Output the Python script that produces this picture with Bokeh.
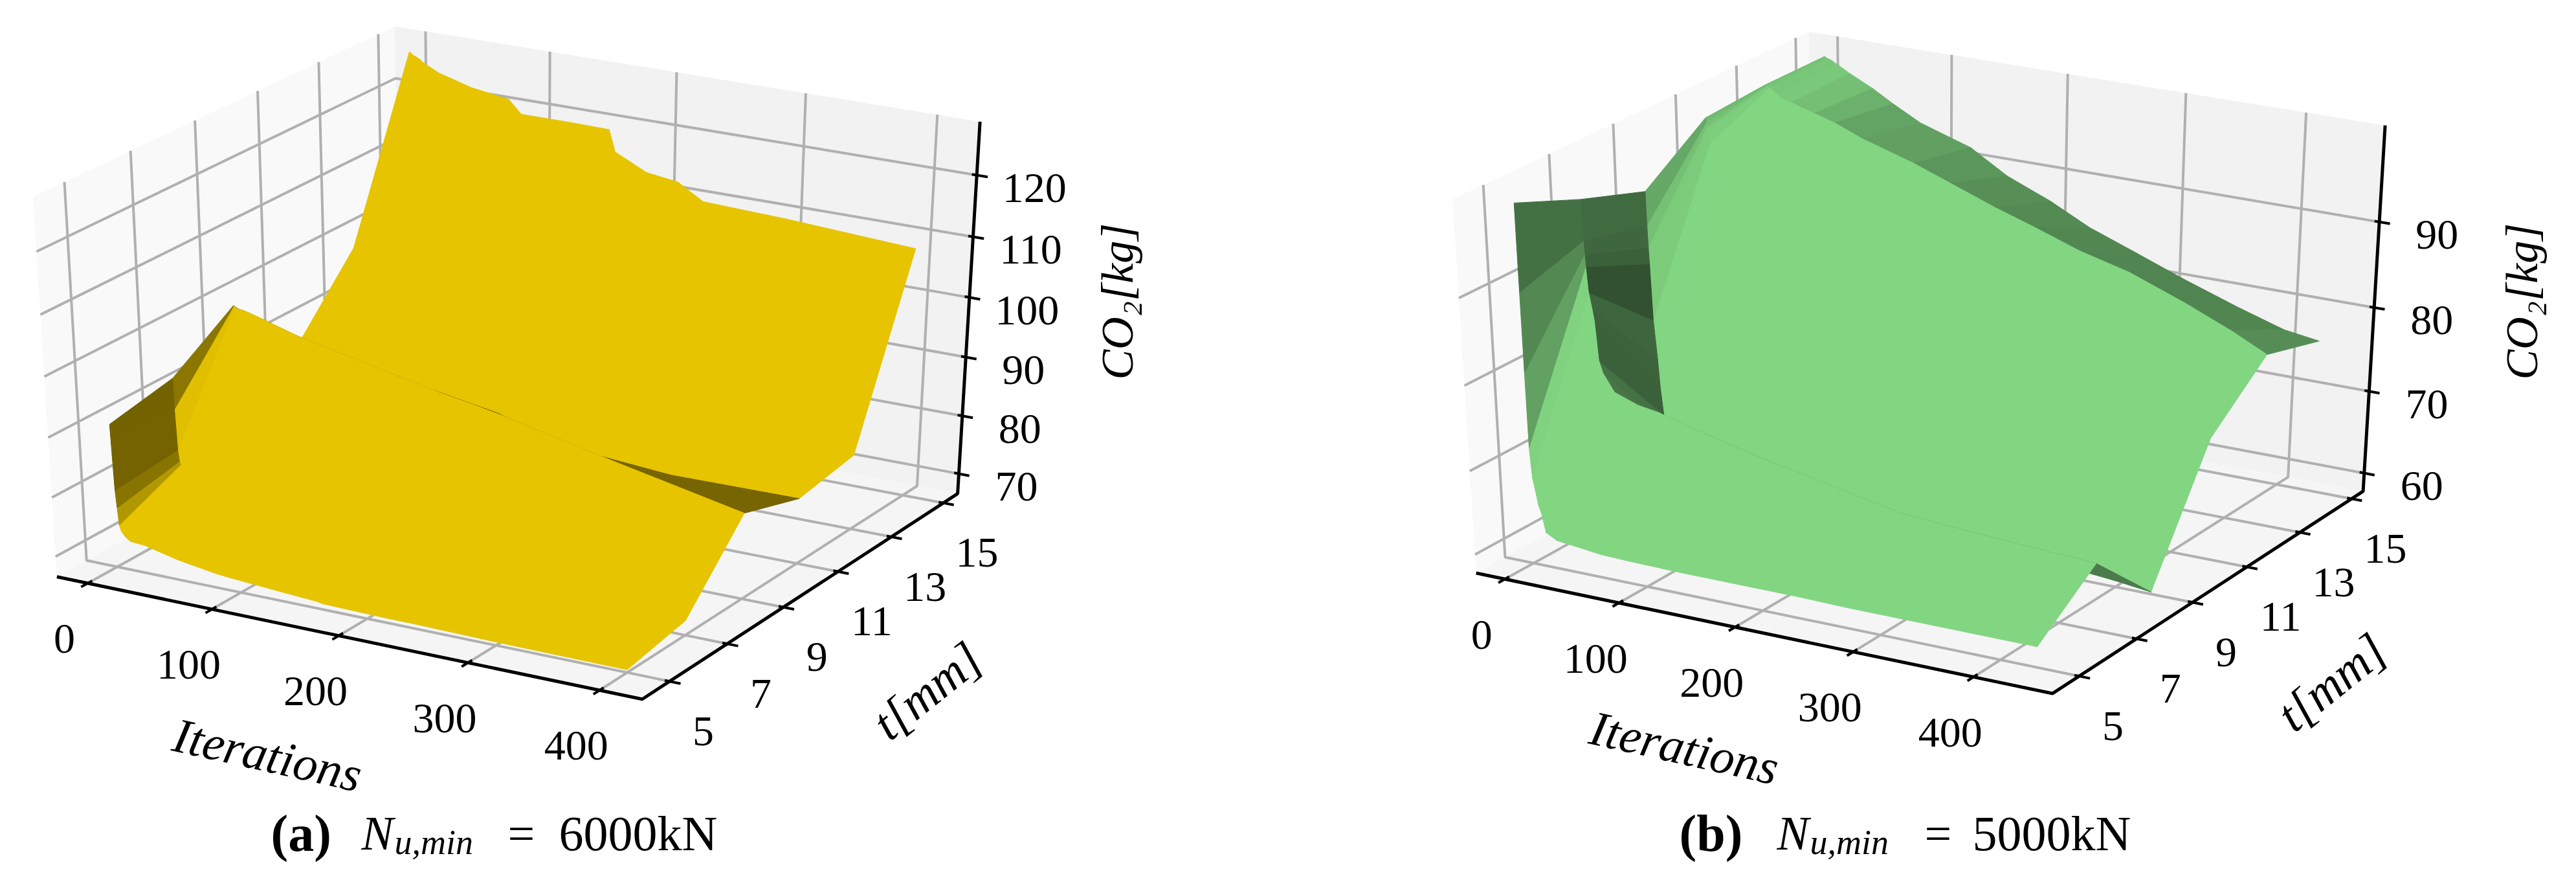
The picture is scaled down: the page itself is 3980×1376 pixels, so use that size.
import numpy as np
from bokeh.plotting import figure
from bokeh.layouts import row
from bokeh.models import Range1d, ColumnDataSource
from bokeh.core.properties import value
from bokeh.embed import file_html
from bokeh.resources import INLINE

# ---------- data ----------
thickness = [5, 7, 9, 11, 13, 15]

iters_a = [0, 0.3, 1.5, 2.5, 3.5, 5, 8, 12, 24, 50, 80, 90, 130, 160, 165, 190, 215, 235, 300, 400]
co2_a_t5 = [90.6, 88.5, 79.6, 76.7, 73.8, 72.8, 72, 71.4, 71.2, 69.9, 68.9, 68.7, 68.1, 67.7, 67.5, 67.4, 67.3, 67.3, 67.1, 67]
co2_a_t7 = [92.7, 87.5, 80.7, 78.8, 78.3, 78.1, 78, 77.8, 76.1, 74.7, 73.2, 72.8, 71, 70.8, 70.6, 70.4, 70.2, 70.1, 69.6, 69]
co2_a_t9 = [99.4, 99.35, 99.2, 99.1, 99, 98.95, 98.9, 98.7, 98, 96.4, 95, 94.6, 92.8, 91.5, 91.3, 90.4, 89.4, 88.4, 85.4, 81]
co2_a_t11 = [87, 86.8, 86.2, 85.9, 85.6, 85.5, 85.2, 85, 84.8, 84.3, 83.8, 83.6, 83, 82.4, 82.2, 80.5, 79.3, 78.5, 77.4, 77.6]
co2_a_t13 = [98.7, 98.6, 98.3, 98.2, 98.1, 98, 97.8, 97.5, 97, 96, 94.5, 94, 92, 90.3, 90, 89, 87.7, 86.8, 83.5, 79.2]
co2_a_t15 = [126.5, 126.45, 126.3, 126.1, 126, 125.9, 125.6, 125, 123.8, 122.3, 121.4, 119.3, 119.3, 119.2, 115.7, 113.2, 112.5, 110, 109.5, 108.3]

iters_b = [0, 0.5, 1, 1.5, 3, 5.6, 7, 9.4, 12.6, 22, 42, 60, 84, 128, 160, 198, 232, 270, 313, 360, 400, 430]
co2_b_t5 = [99.6, 89.6, 80.4, 71.7, 68.1, 66.2, 65, 64, 61.8, 61.1, 60.8, 60.5, 60.4, 60.3, 60.3, 60.3, 60.3, 60.2, 60.2, 60.2, 60.2, 60.2]
co2_b_t7 = [96.5, 91.8, 90.3, 88.9, 86, 84, 82.8, 78.2, 76.8, 74.8, 73.8, 73.4, 72.5, 71, 70, 69, 68, 67, 66.6, 66.2, 65.9, 65.7]
co2_b_t9 = [93.9, 90, 87.5, 85.6, 79, 74.5, 71.2, 67.8, 66.4, 65.5, 64.5, 64, 63.3, 62.3, 61.6, 61, 60.5, 60, 59.5, 59, 58.5, 58]
co2_b_t11 = [98.9, 98.4, 97.9, 97.5, 96, 93.6, 92, 90.5, 90.2, 89.8, 89, 88.5, 87.5, 86, 85, 83.5, 82.3, 81, 79, 76.5, 74, 72.2]
co2_b_t13 = [99.4, 99.35, 99.3, 99.25, 99.1, 98.9, 98.8, 98.5, 98.1, 97.8, 97, 96.3, 95, 93.2, 91.6, 89.7, 88.2, 86.4, 84.9, 82.5, 80.2, 78.2]
co2_b_t15 = [99.4, 99.35, 99.3, 99.25, 99.2, 99.1, 99, 98.8, 98.6, 97.9, 96.6, 95.2, 93.5, 91.6, 89, 86.9, 84.6, 82.7, 80.5, 78.3, 76.6, 76]

x_ticks = [0, 100, 200, 300, 400]
y_ticks = [5, 7, 9, 11, 13, 15]
z_ticks_a = [70, 80, 90, 100, 110, 120]
z_ticks_b = [60, 70, 80, 90]

X_LABEL = "Iterations"
Y_LABEL = "t[mm]"
Z_LABEL = "CO₂[kg]"

SERIF = "Liberation Serif"
GRID = "#b0b0b0"


class View:
    """Default 3D camera (azim -60, elev 30, dist 10) on a unit cube."""
    u = np.array([0.8660254, 0.5, 0.0])
    v = np.array([-0.25, 0.4330127, 0.8660254])
    w = np.array([0.4330127, -0.75, 0.5])

    def __init__(self, tx, ty, sx, sy, xlim, ylim, zlim):
        self.tx, self.ty, self.sx, self.sy = tx, ty, sx, sy
        self.xlim, self.ylim, self.zlim = xlim, ylim, zlim

    def world(self, x, y, z):
        return ((x - self.xlim[0]) / (self.xlim[1] - self.xlim[0]) - 0.5,
                (y - self.ylim[0]) / (self.ylim[1] - self.ylim[0]) - 0.5,
                (z - self.zlim[0]) / (self.zlim[1] - self.zlim[0]) - 0.5)

    def proj_w(self, xw, yw, zw):
        p = np.array([xw, yw, zw])
        d = 10.0 - p.dot(self.w)
        return self.tx + self.sx * p.dot(self.u) / d, self.ty - self.sy * p.dot(self.v) / d, d

    def proj(self, x, y, z):
        return self.proj_w(*self.world(x, y, z))


def polyline(p, v, pts, **kw):
    xy = [v.proj_w(*q) for q in pts]
    p.line([a[0] for a in xy], [a[1] for a in xy], **kw)


def put_text(p, x, y, s, size, angle=0.0, style="normal", align="center", base="middle"):
    p.text([x], [y], text=[s], angle=angle, text_font=value(SERIF), text_font_size=f"{size}px",
           text_font_style=style, text_align=align, text_baseline=base, text_color="black")


def panel(xr, xs, ts, zrows, base, lo, gamma, cap, view, zticks, label_pos, caption):
    p = figure(width=1982, height=1360, x_range=Range1d(*xr), y_range=Range1d(1360, 0),
               output_backend="svg", toolbar_location=None, tools="", min_border=0,
               x_axis_location=None, y_axis_location=None, outline_line_color=None,
               background_fill_color="white", border_fill_color="white")
    p.grid.visible = False

    # panes
    a = 0.5
    for pts, col in (
        ([(-a, -a, -a), (-a, a, -a), (-a, a, a), (-a, -a, a)], "#f9f9f9"),
        ([(-a, a, -a), (a, a, -a), (a, a, a), (-a, a, a)], "#f2f2f2"),
        ([(-a, -a, -a), (a, -a, -a), (a, a, -a), (-a, a, -a)], "#f5f5f5"),
    ):
        xy = [view.proj_w(*q) for q in pts]
        p.patch([q[0] for q in xy], [q[1] for q in xy], fill_color=col, line_color=None)

    gl = dict(line_color=GRID, line_width=4)
    for x in x_ticks:
        xw = view.world(x, 0, 0)[0]
        polyline(p, view, [(xw, -a, -a), (xw, a, -a), (xw, a, a)], **gl)
    for y in y_ticks:
        yw = view.world(0, y, 0)[1]
        polyline(p, view, [(a, yw, -a), (-a, yw, -a), (-a, yw, a)], **gl)
    for z in zticks:
        zw = view.world(0, 0, z)[2]
        polyline(p, view, [(a, a, zw), (-a, a, zw), (-a, -a, zw)], **gl)

    # axis lines and ticks
    al = dict(line_color="black", line_width=5)
    polyline(p, view, [(-a, -a, -a), (a, -a, -a), (a, a, -a), (a, a, a)], **al)
    tl = dict(line_color="black", line_width=4)
    for x in x_ticks:
        xw = view.world(x, 0, 0)[0]
        polyline(p, view, [(xw, -a - 0.018, -a), (xw, -a + 0.012, -a)], **tl)
        px, py, _ = view.proj_w(xw, -a, -a)
        put_text(p, px - 36, py + 86, str(x), 66)
    for y in y_ticks:
        yw = view.world(0, y, 0)[1]
        polyline(p, view, [(a + 0.018, yw, -a), (a - 0.008, yw, -a)], **tl)
        px, py, _ = view.proj_w(a, yw, -a)
        put_text(p, px + 52, py + 77, str(y), 66)
    for z in zticks:
        zw = view.world(0, 0, z)[2]
        polyline(p, view, [(a + 0.018, a, zw), (a - 0.008, a, zw)], **tl)
        px, py, _ = view.proj_w(a, a, zw)
        put_text(p, px + 89, py + 20, str(z), 66)

    # surface, painter-sorted, shaded from the quad normals
    Z = np.array(zrows, dtype=float)
    quads = []
    for i in range(len(ts) - 1):
        for j in range(len(xs) - 1):
            c = [(xs[j], ts[i], Z[i, j]), (xs[j + 1], ts[i], Z[i, j + 1]),
                 (xs[j + 1], ts[i + 1], Z[i + 1, j + 1]), (xs[j], ts[i + 1], Z[i + 1, j])]
            d1 = np.subtract(c[2], c[0])
            d2 = np.subtract(c[3], c[1])
            n = np.cross(d1, d2)
            if n[2] < 0:
                n = -n
            s = n.dot([-1, -1, 0.5]) / np.linalg.norm(n)
            q = [view.proj(*k) for k in c]
            quads.append((np.mean([k[2] for k in q]), s, [k[0] for k in q], [k[1] for k in q]))
    quads.sort(key=lambda k: -k[0])
    sh = np.array([k[1] for k in quads])
    norm = np.minimum(1.0, (sh - sh.min()) / (sh.max() - sh.min()) / cap)
    f = lo + (1 - lo) * norm ** gamma
    cols = ["#%02x%02x%02x" % tuple(int(round(b * g)) for b in base) for g in f]
    src = ColumnDataSource(dict(xs=[k[2] for k in quads], ys=[k[3] for k in quads], c=cols))
    p.patches("xs", "ys", source=src, fill_color="c", line_color="c", line_width=1)

    # axis labels
    (xl, yl, zl) = label_pos
    put_text(p, xl[0], xl[1], X_LABEL, 76, angle=-0.22, style="italic")
    put_text(p, yl[0], yl[1], Y_LABEL, 76, angle=0.675, style="italic")
    put_text(p, zl[0], zl[1], Z_LABEL, 70, angle=np.pi / 2, style="italic")

    # caption
    for (x, y, s, size, style) in caption:
        put_text(p, x, y, s, size, style=style, align="left", base="alphabetic")
    return p


view_a = View(794, 542, 10440, 6700, (-25.1, 432.0), (4.07, 15.56), (66.53, 128.56))
view_b = View(2976, 542, 10280, 6590, (-25.5, 464.7), (4.09, 15.45), (57.75, 101.0))

p1 = panel((0, 1982), iters_a, thickness,
           [co2_a_t5, co2_a_t7, co2_a_t9, co2_a_t11, co2_a_t13, co2_a_t15],
           (230, 196, 0), 0.5, 1.6, 0.8, view_a, z_ticks_a,
           ((413, 1165), (1432, 1066), (1726, 465)),
           [(418, 1286, "(a)", 80, "bold"), (558, 1286, "N", 74, "italic"),
            (609, 1300, "u,min", 54, "italic"), (784, 1286, "=", 74, "normal"),
            (863, 1286, "6000kN", 76, "normal")])
p2 = panel((1982, 3964), iters_b, thickness,
           [co2_b_t5, co2_b_t7, co2_b_t9, co2_b_t11, co2_b_t13, co2_b_t15],
           (130, 214, 130), 0.38, 0.7, 0.9, view_b, z_ticks_b,
           ((2602, 1154), (3602, 1053), (3896, 465)),
           [(2594, 1286, "(b)", 80, "bold"), (2745, 1286, "N", 74, "italic"),
            (2796, 1300, "u,min", 54, "italic"), (2973, 1286, "=", 74, "normal"),
            (3047, 1286, "5000kN", 76, "normal")])

page = row(p1, p2)
open("out.html", "w").write(file_html(page, INLINE))
